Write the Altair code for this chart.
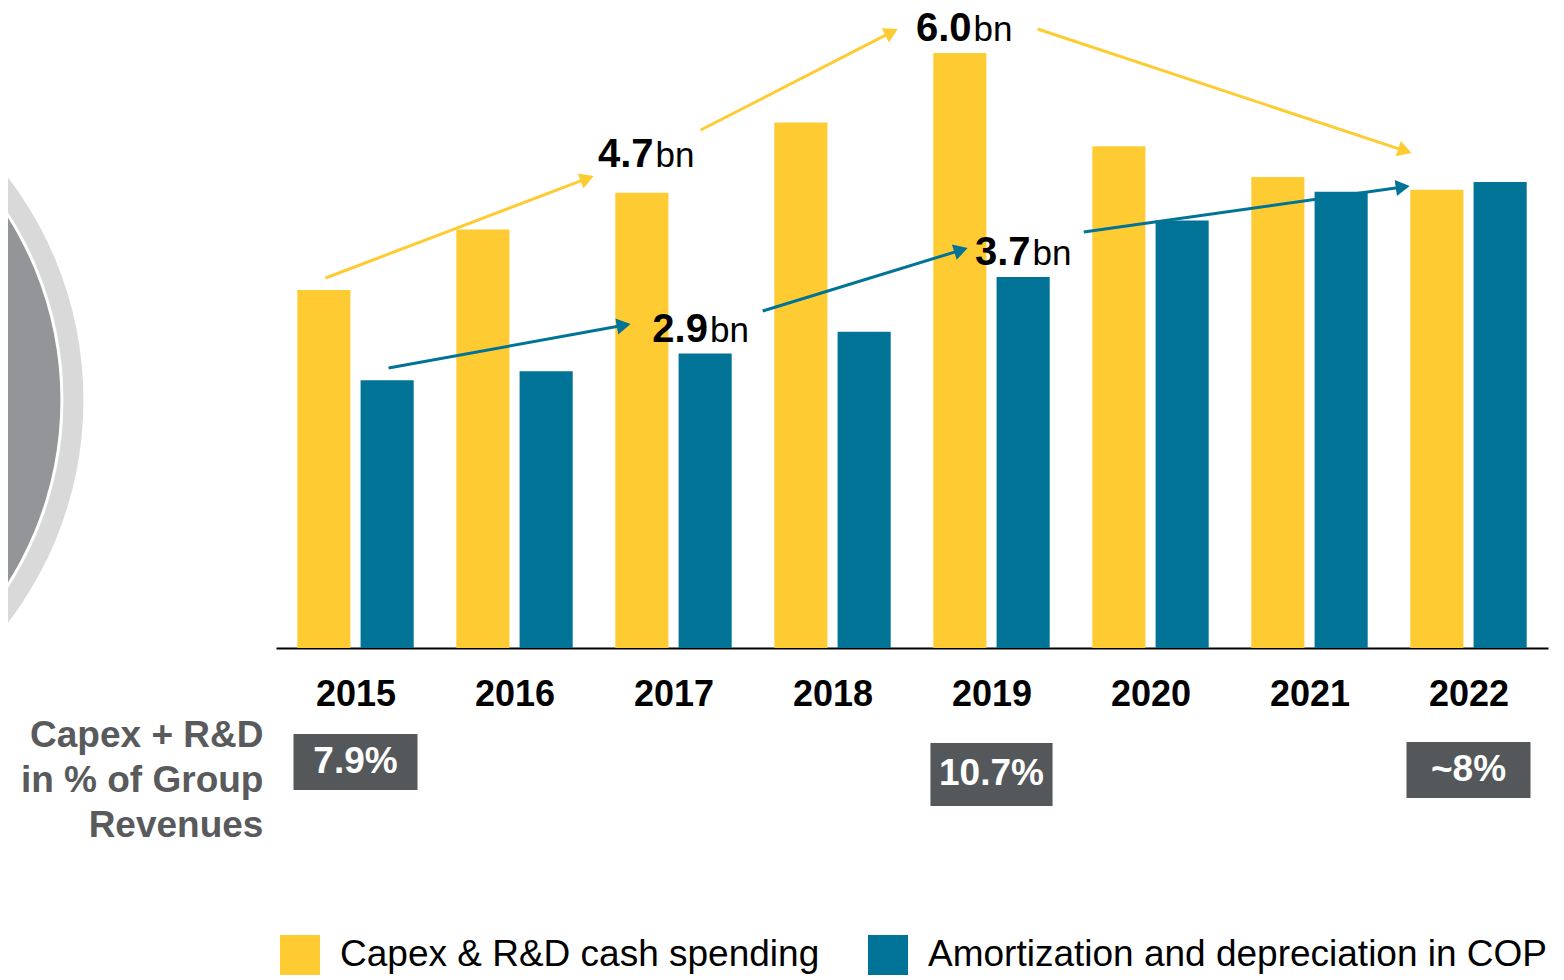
import math
import altair as alt
import pandas as pd

# ---------------- data ----------------
years = [2015, 2016, 2017, 2018, 2019, 2020, 2021, 2022]
capex_rd = [3.61, 4.22, 4.59, 5.30, 6.00, 5.06, 4.75, 4.62]
amort_dep = [2.70, 2.79, 2.97, 3.19, 3.74, 4.31, 4.60, 4.70]
series = ["Capex & R&D cash spending", "Amortization and depreciation in COP"]
colors = ["#FFCB33", "#007396"]

callout_numbers = ["4.7", "6.0", "2.9", "3.7"]
callout_unit = "bn"

pct_labels = ["7.9%", "10.7%", "~8%"]
pct_years = [2015, 2019, 2022]

side_label = ["Capex + R&D", "in % of Group", "Revenues"]

# ---------------- layout ----------------
W, H = 1272, 640
X_DOMAIN = [2014.5, 2022.5]
Y_DOMAIN = [0, 6.4536]
PXX = W / (X_DOMAIN[1] - X_DOMAIN[0])
PXY = H / (Y_DOMAIN[1] - Y_DOMAIN[0])
FONT = "Liberation Sans"

xs = alt.Scale(domain=X_DOMAIN, nice=False, zero=False)
ys = alt.Scale(domain=Y_DOMAIN, nice=False, zero=False)

x_axis = alt.Axis(values=years, format="d", title=None, ticks=False, tickSize=0,
                  grid=False, domainColor="black", domainWidth=2,
                  labelFontSize=36, labelFontWeight="bold", labelColor="black",
                  labelFont=FONT, labelPadding=46, labelBaseline="middle",
                  labelFlush=False, labelOverlap=False)


def X(field):
    return alt.X(field, scale=xs, axis=x_axis)


def Y(field):
    return alt.Y(field, scale=ys, axis=None)


# bars
rows = []
for i, yr in enumerate(years):
    rows.append({"year": yr, "series": series[0], "value": capex_rd[i], "side": -1})
    rows.append({"year": yr, "series": series[1], "value": amort_dep[i], "side": 1})
bars_df = pd.DataFrame(rows)

legend = alt.Legend(orient="none", legendX=4, legendY=927, direction="horizontal",
                    title=None, symbolType="square", symbolSize=1600,
                    symbolStrokeWidth=0, labelFontSize=37, labelFont=FONT,
                    labelColor="black", labelOffset=20, columnPadding=48,
                    padding=0, labelLimit=0)

bars = alt.Chart(bars_df).transform_calculate(
    x0="datum.side < 0 ? datum.year - 0.366 : datum.year + 0.032"
).transform_calculate(
    x1="datum.x0 + 0.334"
).mark_rect().encode(
    x=X("x0:Q"),
    x2="x1:Q",
    y=Y("value:Q"),
    y2=alt.datum(0),
    color=alt.Color("series:N", scale=alt.Scale(domain=series, range=colors),
                    legend=legend),
)

# decorative circle at the left
circ_df = pd.DataFrame({"cx": [2010.987], "cy": [2.50]})


def circle_layer(radius, col):
    return alt.Chart(circ_df).mark_point(shape="circle", filled=True, opacity=1,
                                         size=(2 * radius) ** 2, color=col).encode(
        x=X("cx:Q"), y=Y("cy:Q"),
    )


circles = [circle_layer(366, "#D9D9D9"), circle_layer(346, "#FFFFFF"),
           circle_layer(343, "#939598")]

# arrows (start -> tip, in data units)
arrows = [
    (2014.812, 3.731, 2016.498, 4.760, colors[0]),
    (2017.171, 5.223, 2018.410, 6.242, colors[0]),
    (2019.290, 6.242, 2021.642, 4.991, colors[0]),
    (2015.208, 2.823, 2016.730, 3.267, colors[1]),
    (2017.561, 3.398, 2018.850, 4.033, colors[1]),
    (2019.580, 4.195, 2021.630, 4.659, colors[1]),
]
HEAD = 260
hh = math.sqrt(3) / 2 * math.sqrt(HEAD) / 2
arows = []
for x1, y1, x2, y2, c in arrows:
    dxp = (x2 - x1) * PXX
    dyp = -(y2 - y1) * PXY
    L = math.hypot(dxp, dyp)
    ux, uy = dxp / L, dyp / L
    xc = x2 - hh * ux / PXX
    yc = y2 + hh * uy / PXY
    ang = math.degrees(math.atan2(dxp, -dyp)) % 360
    arows.append({"x1": x1, "y1": y1, "xc": xc, "yc": yc, "angle": ang, "col": c})
arr_df = pd.DataFrame(arows)

rules = alt.Chart(arr_df).mark_rule(strokeWidth=3).encode(
    x=X("x1:Q"), y=Y("y1:Q"),
    x2="xc:Q", y2="yc:Q", stroke=alt.Stroke("col:N", scale=None),
)
heads = alt.Chart(arr_df).mark_point(shape="triangle-up", filled=True, size=HEAD,
                                     opacity=1, strokeWidth=0).encode(
    x=X("xc:Q"), y=Y("yc:Q"),
    angle=alt.Angle("angle:Q", scale=None), fill=alt.Fill("col:N", scale=None),
)

# callout labels (split point x, baseline y)
call_pos = [(2016.881, 4.850), (2018.881, 6.125), (2017.223, 3.086), (2019.252, 3.862)]
call_df = pd.DataFrame({"num": callout_numbers, "unit": callout_unit,
                        "x": [p[0] for p in call_pos], "y": [p[1] for p in call_pos]})
call_num = alt.Chart(call_df).mark_text(align="right", baseline="alphabetic", dx=-1,
                                        fontSize=40, fontWeight="bold", font=FONT,
                                        color="black").encode(
    x=X("x:Q"), y=Y("y:Q"), text="num:N")
call_unit = alt.Chart(call_df).mark_text(align="left", baseline="alphabetic", dx=1,
                                         fontSize=35, font=FONT, color="black").encode(
    x=X("x:Q"), y=Y("y:Q"), text="unit:N")

# percentage boxes
box_geom = [(0.39, -0.867, -1.432), (0.384, -0.958, -1.593), (0.39, -0.948, -1.513)]
box_df = pd.DataFrame({
    "label": pct_labels,
    "xa": [yr - g[0] for yr, g in zip(pct_years, box_geom)],
    "xb": [yr + g[0] for yr, g in zip(pct_years, box_geom)],
    "xm": [yr + 0.0 for yr in pct_years],
    "ya": [g[1] for g in box_geom],
    "yb": [g[2] for g in box_geom],
})
box_df["ym"] = (box_df["ya"] + box_df["yb"]) / 2
boxes = alt.Chart(box_df).mark_rect(color="#54585A").encode(
    x=X("xa:Q"), x2="xb:Q", y=Y("ya:Q"), y2="yb:Q")
box_text = alt.Chart(box_df).mark_text(align="center", baseline="middle", fontSize=37,
                                       fontWeight="bold", font=FONT, color="white").encode(
    x=X("xm:Q"), y=Y("ym:Q"), text="label:N")

# side label
side_df = pd.DataFrame({"t": side_label, "x": [2014.421] * 3, "y": [-0.998, -1.452, -1.906]})
side = alt.Chart(side_df).mark_text(align="right", baseline="alphabetic", fontSize=37,
                                    fontWeight="bold", font=FONT, color="#595A5C").encode(
    x=X("x:Q"), y=Y("y:Q"), text="t:N")

chart = alt.layer(
    bars, *circles, rules, heads, call_num, call_unit, boxes, box_text, side
).properties(
    width=W, height=H,
    padding={"left": 268, "top": 0, "right": 8, "bottom": 328},
    autosize=alt.AutoSizeParams(type="none"),
    background="white",
).configure(font=FONT).configure_view(stroke=None)

chart.save("out.html", embed_options={"renderer": "svg", "actions": False})
